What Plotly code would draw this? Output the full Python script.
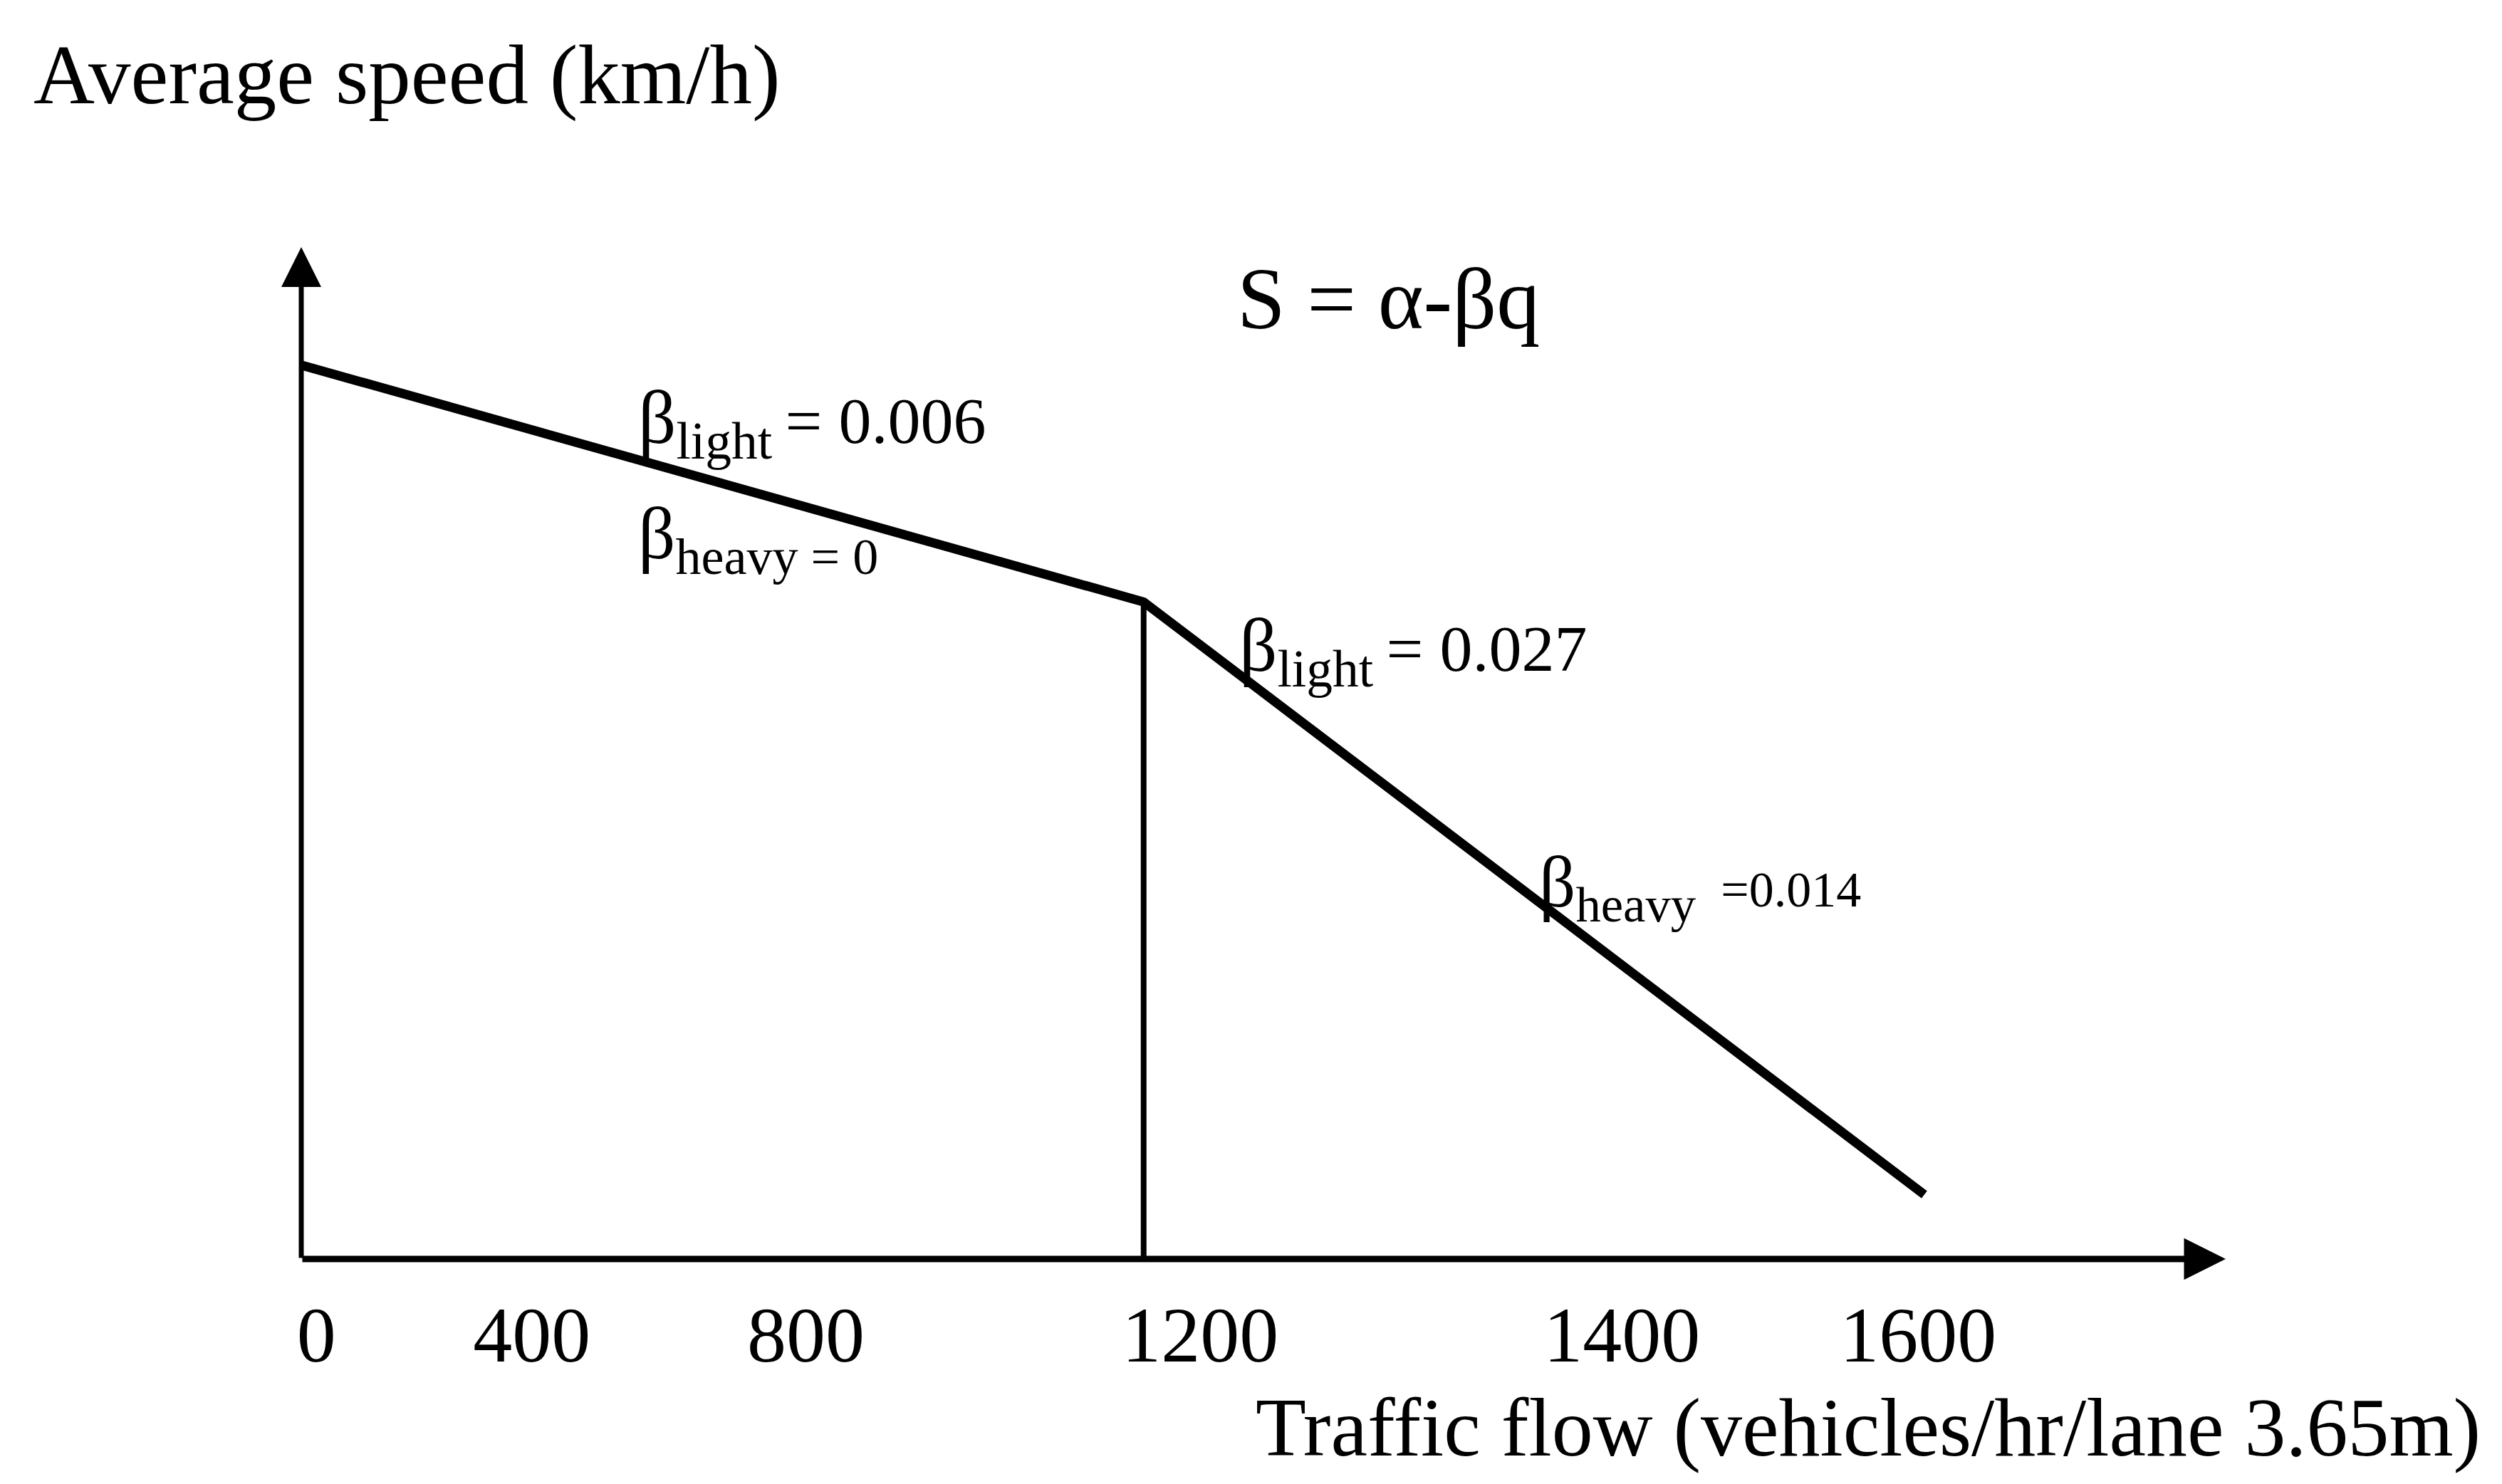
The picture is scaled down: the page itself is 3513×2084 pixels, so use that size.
import plotly.graph_objects as go

# ---- data (schematic units) ----
flow_x = [0, 833, 1605]          # position along the traffic-flow axis
speed_y = [100, 73.5, 7.2]       # average speed (schematic, no scale given)
tick_labels = ["0", "400", "800", "1200", "1400", "1600"]
tick_pos = [15, 228, 499, 889, 1306, 1599]

x_max = 1903
y_max = 113.2

FONT = "Liberation Serif"

fig = go.Figure()

# speed-flow line
fig.add_trace(go.Scatter(x=flow_x, y=speed_y, mode="lines",
                         line=dict(color="black", width=13), hoverinfo="skip"))
# vertical line at the break point
fig.add_trace(go.Scatter(x=[flow_x[1], flow_x[1]], y=[0, speed_y[1]], mode="lines",
                         line=dict(color="black", width=8), hoverinfo="skip"))

ann = []
# axis arrows
ann.append(dict(x=x_max, y=0, ax=0, ay=0, xref="x", yref="y", axref="x", ayref="y",
                showarrow=True, arrowhead=2, arrowsize=1.3, arrowwidth=9,
                arrowcolor="black", text=""))
ann.append(dict(x=0, y=y_max, ax=0, ay=0, xref="x", yref="y", axref="x", ayref="y",
                showarrow=True, arrowhead=2, arrowsize=1.6, arrowwidth=7,
                arrowcolor="black", text=""))

# titles
ann.append(dict(text="Average speed (km/h)", xref="paper", yref="paper",
                x=-0.140, y=1.170, xanchor="left", yanchor="middle", showarrow=False,
                font=dict(family=FONT, size=119, color="black")))
ann.append(dict(text="Traffic flow (vehicles/hr/lane 3.65m)", xref="paper", yref="paper",
                x=1.133, y=-0.167, xanchor="right", yanchor="middle", showarrow=False,
                borderpad=0,
                font=dict(family=FONT, size=116, color="black")))

# formula
ann.append(dict(text="S = α-βq", xref="x", yref="y", x=1075, y=107.4,
                xanchor="center", yanchor="middle", showarrow=False,
                font=dict(family=FONT, size=122, color="black")))

# beta labels
ann.append(dict(text='β<sub>light</sub><span style="font-size:92px">\u2009= 0.006</span>',
                xref="x", yref="y", x=332, y=93.5, xanchor="left", yanchor="middle",
                showarrow=False, font=dict(family=FONT, size=105, color="black")))
ann.append(dict(text='β<sub>heavy = 0</sub>',
                xref="x", yref="y", x=332, y=80.5, xanchor="left", yanchor="middle",
                showarrow=False, font=dict(family=FONT, size=103, color="black")))
ann.append(dict(text='β<sub>light</sub><span style="font-size:92px">\u2009= 0.027</span>',
                xref="x", yref="y", x=926, y=68.0, xanchor="left", yanchor="middle",
                showarrow=False, font=dict(family=FONT, size=105, color="black")))
ann.append(dict(text='β<sub>heavy</sub><span style="font-size:70px">  =0.014</span>',
                xref="x", yref="y", x=1223, y=41.6, xanchor="left", yanchor="middle",
                showarrow=False, font=dict(family=FONT, size=101, color="black")))

# page body has an 8px margin: shrink the figure and shift margins to compensate
fig.update_layout(
    width=3497, height=2068, autosize=False,
    margin=dict(l=415, r=380, t=339, b=308),
    paper_bgcolor="white", plot_bgcolor="white",
    showlegend=False,
    annotations=ann,
    xaxis=dict(range=[0, x_max], showgrid=False, zeroline=False, showline=False,
               tickmode="array", tickvals=tick_pos, ticktext=tick_labels,
               ticks="", ticklabelstandoff=33,
               tickfont=dict(family=FONT, size=110, color="black")),
    yaxis=dict(range=[0, y_max], showgrid=False, zeroline=False, showline=False,
               showticklabels=False, ticks=""),
)

fig.write_html("out.html")
